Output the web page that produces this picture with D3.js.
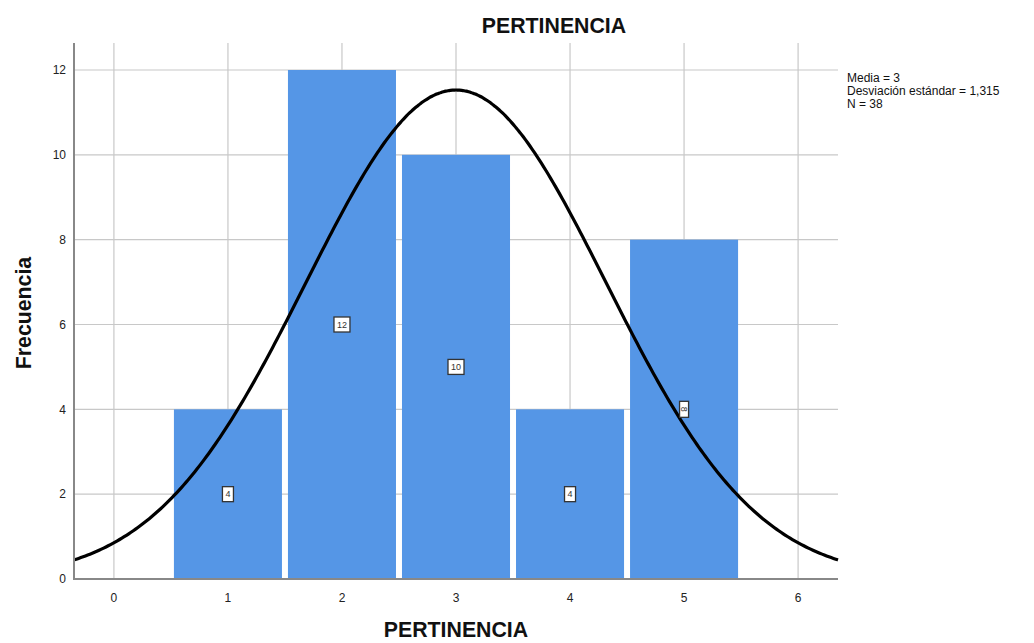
<!DOCTYPE html>
<html><head><meta charset="utf-8">
<script src="https://cdn.jsdelivr.net/npm/d3@7"></script>
<style>body{margin:0;background:#fff;}svg{display:block;font-family:Arial,"Liberation Sans",sans-serif;}</style>
</head><body><svg id="c" width="1034" height="643"></svg>
<script>
const categories = [1, 2, 3, 4, 5];
const counts = [4, 12, 10, 4, 8];
const xTicks = [0, 1, 2, 3, 4, 5, 6];
const yTicks = [0, 2, 4, 6, 8, 10, 12];
const mean = 3, sd = 1.315, n = 38;
const legendLines = ["Media = 3", "Desviación estándar = 1,315", "N = 38"];
const title = "PERTINENCIA", xTitle = "PERTINENCIA", yTitle = "Frecuencia";

const svg = d3.select("#c");
const L = 74, R = 838, T = 43, B = 579;
const x = d3.scaleLinear().domain([-0.35, 6.35]).range([L, R]);
const y = d3.scaleLinear().domain([0, 12]).range([B, 70]);

// grid
svg.append("g").selectAll("line").data(xTicks).join("line")
  .attr("x1", d => x(d)).attr("x2", d => x(d)).attr("y1", T).attr("y2", B)
  .attr("stroke", "#c8c8c8").attr("stroke-width", 1.2);
svg.append("g").selectAll("line").data(yTicks.filter(d => d > 0)).join("line")
  .attr("x1", L).attr("x2", R).attr("y1", d => y(d)).attr("y2", d => y(d))
  .attr("stroke", "#c8c8c8").attr("stroke-width", 1.2);

// bars
const inset = 3;
svg.append("g").selectAll("rect").data(categories).join("rect")
  .attr("x", d => x(d - 0.5) + inset)
  .attr("width", d => x(d + 0.5) - x(d - 0.5) - 2 * inset)
  .attr("y", (d, i) => y(counts[i]))
  .attr("height", (d, i) => y(0) - y(counts[i]))
  .attr("fill", "#5596e6");

// normal curve
const pts = d3.range(-0.35, 6.3501, 0.02).map(v => [v, n * 1 / (sd * Math.sqrt(2 * Math.PI)) * Math.exp(-0.5 * ((v - mean) / sd) ** 2)]);
svg.append("path").datum(pts)
  .attr("d", d3.line().x(d => x(d[0])).y(d => y(d[1])).curve(d3.curveBasis))
  .attr("fill", "none").attr("stroke", "#000").attr("stroke-width", 3.2);

// labels
const lg = svg.append("g").selectAll("g").data(categories).join("g")
  .attr("transform", (d, i) => `translate(${x(d)},${y(counts[i] / 2)})`);
lg.append("rect")
  .attr("x", (d, i) => i === 4 ? -4.5 : (String(counts[i]).length > 1 ? -8 : -5.5))
  .attr("y", (d, i) => i === 4 ? -8 : -7.5)
  .attr("width", (d, i) => i === 4 ? 9 : (String(counts[i]).length > 1 ? 16 : 11))
  .attr("height", (d, i) => i === 4 ? 16 : 15)
  .attr("fill", "#fff").attr("stroke", "#333").attr("stroke-width", 1.3);
lg.append("text")
  .attr("transform", (d, i) => i === 4 ? "rotate(90)" : null)
  .attr("text-anchor", "middle").attr("dy", "0.35em")
  .attr("font-size", 9).attr("fill", "#333")
  .text((d, i) => counts[i]);

// axes lines
svg.append("line").attr("x1", L).attr("x2", L).attr("y1", T).attr("y2", B + 1)
  .attr("stroke", "#888").attr("stroke-width", 2);
svg.append("line").attr("x1", L).attr("x2", R).attr("y1", B).attr("y2", B)
  .attr("stroke", "#888").attr("stroke-width", 2);

// tick labels
svg.append("g").selectAll("text").data(yTicks).join("text")
  .attr("x", 66).attr("y", d => y(d)).attr("dy", "0.35em").attr("text-anchor", "end")
  .attr("font-size", 12).attr("fill", "#222").text(d => d);
svg.append("g").selectAll("text").data(xTicks).join("text")
  .attr("x", d => x(d)).attr("y", 598).attr("dy", "0.35em").attr("text-anchor", "middle")
  .attr("font-size", 12).attr("fill", "#222").text(d => d);

// titles
svg.append("text").attr("x", 554).attr("y", 33).attr("text-anchor", "middle")
  .attr("font-size", 21.3).attr("font-weight", "bold").attr("fill", "#111").text(title);
svg.append("text").attr("x", 456).attr("y", 637).attr("text-anchor", "middle")
  .attr("font-size", 21.3).attr("font-weight", "bold").attr("fill", "#111").text(xTitle);
svg.append("text").attr("transform", "translate(31,313) rotate(-90)").attr("text-anchor", "middle")
  .attr("font-size", 21.3).attr("font-weight", "bold").attr("fill", "#111").text(yTitle);

// legend
svg.append("g").selectAll("text").data(legendLines).join("text")
  .attr("x", 847).attr("y", (d, i) => 82 + i * 13)
  .attr("font-size", 12).attr("fill", "#111").text(d => d);
</script></body></html>
